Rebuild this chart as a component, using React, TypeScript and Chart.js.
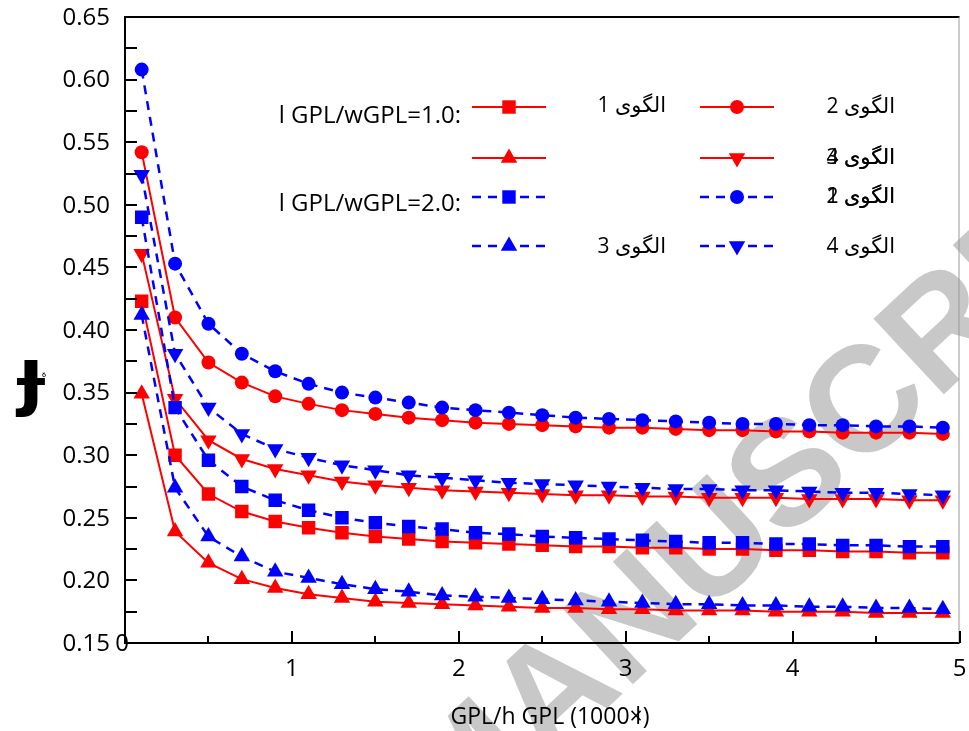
import React, { useEffect, useRef } from 'react';
import { Chart, registerables } from 'chart.js';

Chart.register(...registerables);

// ---------- DATA ----------
const xValues = [0.1, 0.3, 0.5, 0.7, 0.9, 1.1, 1.3, 1.5, 1.7, 1.9, 2.1, 2.3, 2.5, 2.7, 2.9, 3.1, 3.3, 3.5, 3.7, 3.9, 4.1, 4.3, 4.5, 4.7, 4.9];

// ratio 1.0 (red, solid)
const r1Pattern1 = [0.423, 0.300, 0.269, 0.255, 0.247, 0.242, 0.238, 0.235, 0.233, 0.231, 0.230, 0.229, 0.228, 0.227, 0.227, 0.226, 0.226, 0.225, 0.225, 0.224, 0.224, 0.223, 0.223, 0.222, 0.222];
const r1Pattern2 = [0.542, 0.410, 0.374, 0.358, 0.347, 0.341, 0.336, 0.333, 0.330, 0.328, 0.326, 0.325, 0.324, 0.323, 0.322, 0.322, 0.321, 0.320, 0.320, 0.319, 0.319, 0.318, 0.318, 0.318, 0.317];
const r1Pattern3 = [0.349, 0.239, 0.214, 0.201, 0.194, 0.189, 0.186, 0.183, 0.182, 0.181, 0.180, 0.179, 0.178, 0.178, 0.177, 0.177, 0.176, 0.176, 0.176, 0.175, 0.175, 0.175, 0.174, 0.174, 0.174];
const r1Pattern4 = [0.461, 0.345, 0.312, 0.297, 0.289, 0.284, 0.279, 0.276, 0.274, 0.272, 0.271, 0.270, 0.269, 0.268, 0.268, 0.267, 0.267, 0.266, 0.266, 0.266, 0.265, 0.265, 0.265, 0.264, 0.264];

// ratio 2.0 (blue, dashed)
const r2Pattern1 = [0.490, 0.338, 0.296, 0.275, 0.264, 0.256, 0.250, 0.246, 0.243, 0.241, 0.238, 0.237, 0.235, 0.234, 0.233, 0.232, 0.231, 0.230, 0.230, 0.229, 0.229, 0.228, 0.228, 0.227, 0.227];
const r2Pattern2 = [0.608, 0.453, 0.405, 0.381, 0.367, 0.357, 0.350, 0.346, 0.342, 0.338, 0.336, 0.334, 0.332, 0.330, 0.329, 0.328, 0.327, 0.326, 0.325, 0.325, 0.324, 0.324, 0.323, 0.323, 0.322];
const r2Pattern3 = [0.412, 0.274, 0.235, 0.219, 0.207, 0.202, 0.197, 0.193, 0.191, 0.188, 0.187, 0.186, 0.185, 0.184, 0.183, 0.182, 0.181, 0.181, 0.180, 0.180, 0.179, 0.179, 0.178, 0.178, 0.177];
const r2Pattern4 = [0.524, 0.381, 0.338, 0.317, 0.305, 0.298, 0.292, 0.288, 0.284, 0.282, 0.280, 0.278, 0.277, 0.276, 0.275, 0.274, 0.273, 0.273, 0.272, 0.272, 0.271, 0.270, 0.270, 0.269, 0.268];

// ticks and labels
const yMajorTicks = [0.15, 0.2, 0.25, 0.3, 0.35, 0.4, 0.45, 0.5, 0.55, 0.6, 0.65];
const yMinorTicks = [0.175, 0.225, 0.275, 0.325, 0.375, 0.425, 0.475, 0.525, 0.575, 0.625];
const xMajorTicks = [0, 1, 2, 3, 4, 5];
const xMinorTicks = [0.5, 1.5, 2.5, 3.5, 4.5];
const groupLabels = ['l GPL/wGPL=1.0:', 'l GPL/wGPL=2.0:'];
const patternLabels = ['الگوی 1', 'الگوی 2', 'الگوی 3', 'الگوی 4'];
const xTitleParts = ['GPL/h GPL (1000', '×', 'l', ')'];
const yTitleMain = 'ɟ';
const yTitleSup = 'ة';
const watermarkWords = ['ACCEPTED', 'MANUSCRIPT'];

const RED = '#ff0000';
const BLUE = '#0000ff';
const FONT = '"Open Sans", "Noto Sans", "DejaVu Sans", sans-serif';

type Def = { label: string; data: number[]; color: string; style: string; rot: number; dashed: boolean; radius: number };

const defs: Def[] = [
  { label: 'r1p1', data: r1Pattern1, color: RED, style: 'rect', rot: 0, dashed: false, radius: 9.5 },
  { label: 'r1p2', data: r1Pattern2, color: RED, style: 'circle', rot: 0, dashed: false, radius: 7 },
  { label: 'r1p3', data: r1Pattern3, color: RED, style: 'triangle', rot: 0, dashed: false, radius: 9.5 },
  { label: 'r1p4', data: r1Pattern4, color: RED, style: 'triangle', rot: 180, dashed: false, radius: 9.5 },
  { label: 'r2p1', data: r2Pattern1, color: BLUE, style: 'rect', rot: 0, dashed: true, radius: 9.5 },
  { label: 'r2p2', data: r2Pattern2, color: BLUE, style: 'circle', rot: 0, dashed: true, radius: 7 },
  { label: 'r2p3', data: r2Pattern3, color: BLUE, style: 'triangle', rot: 0, dashed: true, radius: 9.5 },
  { label: 'r2p4', data: r2Pattern4, color: BLUE, style: 'triangle', rot: 180, dashed: true, radius: 9.5 },
];

function drawMarker(ctx: CanvasRenderingContext2D, style: string, x: number, y: number, r: number, rotDeg: number, color: string) {
  ctx.save();
  ctx.fillStyle = color;
  ctx.setLineDash([]);
  ctx.beginPath();
  if (style === 'circle') {
    ctx.arc(x, y, r, 0, Math.PI * 2);
  } else if (style === 'rect') {
    const s = Math.SQRT1_2 * r;
    ctx.rect(x - s, y - s, 2 * s, 2 * s);
  } else {
    let rad = (rotDeg * Math.PI) / 180;
    ctx.moveTo(x + Math.sin(rad) * r, y - Math.cos(rad) * r);
    rad += (2 * Math.PI) / 3;
    ctx.lineTo(x + Math.sin(rad) * r, y - Math.cos(rad) * r);
    rad += (2 * Math.PI) / 3;
    ctx.lineTo(x + Math.sin(rad) * r, y - Math.cos(rad) * r);
    ctx.closePath();
  }
  ctx.fill();
  ctx.restore();
}

function line(ctx: CanvasRenderingContext2D, x1: number, y1: number, x2: number, y2: number) {
  ctx.beginPath();
  ctx.moveTo(x1, y1);
  ctx.lineTo(x2, y2);
  ctx.stroke();
}

const overlayPlugin = {
  id: 'overlay',
  beforeDraw(chart: any) {
    const ctx: CanvasRenderingContext2D = chart.ctx;
    ctx.save();
    ctx.fillStyle = '#ffffff';
    ctx.fillRect(0, 0, chart.width, chart.height);
    // watermark
    ctx.translate(455, 850);
    ctx.rotate((-43 * Math.PI) / 180);
    ctx.font = 'bold 150px "Liberation Sans", Arial, sans-serif';
    ctx.fillStyle = '#c8c8c8';
    ctx.textBaseline = 'alphabetic';
    ctx.textAlign = 'right';
    ctx.fillText(watermarkWords[0] + ' ', 0, 0);
    ctx.textAlign = 'left';
    ctx.fillText(watermarkWords[1], 0, 0);
    ctx.restore();
  },
  afterDraw(chart: any) {
    const ctx: CanvasRenderingContext2D = chart.ctx;
    const { left, right, top, bottom } = chart.chartArea;
    const xs = chart.scales.x;
    const ys = chart.scales.y;
    ctx.save();
    ctx.setLineDash([]);
    ctx.strokeStyle = '#000';
    ctx.lineWidth = 2;
    line(ctx, left, top - 1, left, bottom + 1);
    line(ctx, left - 1, bottom, right, bottom);
    line(ctx, left - 1, top, right, top);
    ctx.strokeStyle = '#999';
    ctx.lineWidth = 1;
    line(ctx, right - 0.5, top, right - 0.5, bottom);

    // y ticks
    ctx.strokeStyle = '#000';
    ctx.lineWidth = 2;
    [...yMajorTicks, ...yMinorTicks].forEach((v) => {
      const y = Math.round(ys.getPixelForValue(v));
      line(ctx, left, y, left + 12, y);
    });
    // x ticks
    xMajorTicks.forEach((v) => {
      const x = Math.round(xs.getPixelForValue(v));
      line(ctx, x, bottom, x, bottom - 12);
    });
    xMinorTicks.forEach((v) => {
      const x = Math.round(xs.getPixelForValue(v));
      line(ctx, x, bottom, x, bottom - 7);
    });

    // tick labels
    ctx.fillStyle = '#000';
    ctx.font = `24px ${FONT}`;
    ctx.textAlign = 'right';
    ctx.textBaseline = 'middle';
    yMajorTicks.forEach((v) => {
      ctx.fillText(v.toFixed(2), 110, ys.getPixelForValue(v) + 1);
    });
    ctx.textAlign = 'center';
    xMajorTicks.forEach((v) => {
      const x = xs.getPixelForValue(v);
      if (v === 0) ctx.fillText(String(v), x - 3, bottom + 1);
      else ctx.fillText(String(v), x, bottom + 26);
    });

    // x title
    ctx.font = `23px ${FONT}`;
    ctx.textAlign = 'left';
    const w0 = ctx.measureText(xTitleParts[0]).width;
    const w1 = ctx.measureText(xTitleParts[1]).width;
    const w3 = ctx.measureText(xTitleParts[3]).width;
    const sx = 550 - (w0 + w1 + w3) / 2;
    const ty = 717;
    ctx.fillText(xTitleParts[0], sx, ty);
    ctx.fillText(xTitleParts[1], sx + w0, ty);
    ctx.textAlign = 'center';
    ctx.fillText(xTitleParts[2], sx + w0 + w1 * 0.65, ty);
    ctx.textAlign = 'left';
    ctx.fillText(xTitleParts[3], sx + w0 + w1, ty);

    // y title
    ctx.font = `bold 74px "DejaVu Sans", sans-serif`;
    ctx.textAlign = 'center';
    ctx.textBaseline = 'alphabetic';
    ctx.fillText(yTitleMain, 31, 401);
    ctx.font = `9px "DejaVu Sans", sans-serif`;
    ctx.fillText(yTitleSup, 44, 377);

    // legend
    const cols = [
      { x1: 472, x2: 546 },
      { x1: 700, x2: 774 },
    ];
    const rows = [107, 158, 197, 246];
    defs.forEach((d, i) => {
      const group = i < 4 ? 0 : 1;
      const k = i % 4;
      const row = group * 2 + Math.floor(k / 2);
      const col = k % 2;
      const y = rows[row];
      const { x1, x2 } = cols[col];
      ctx.save();
      ctx.strokeStyle = d.color;
      ctx.lineWidth = d.dashed ? 2.5 : 2;
      ctx.setLineDash(d.dashed ? [9, 7] : []);
      line(ctx, x1, y, x2, y);
      ctx.restore();
      drawMarker(ctx, d.style, (x1 + x2) / 2, y, d.radius, d.rot, d.color);
    });

    ctx.fillStyle = '#000';
    ctx.font = `24px ${FONT}`;
    ctx.textAlign = 'right';
    ctx.textBaseline = 'middle';
    ctx.fillText(groupLabels[0], 461, 116);
    ctx.fillText(groupLabels[1], 461, 204);

    ctx.font = `21px ${FONT}`;
    ctx.direction = 'rtl';
    ctx.textAlign = 'right';
    const lbl = (t: string, x: number, y: number) => ctx.fillText(t, x, y);
    lbl(patternLabels[0], 666, 106);
    lbl(patternLabels[1], 895, 107);
    lbl(patternLabels[2], 895, 158);
    lbl(patternLabels[3], 895, 158);
    lbl(patternLabels[0], 895, 197);
    lbl(patternLabels[1], 895, 197);
    lbl(patternLabels[2], 666, 247);
    lbl(patternLabels[3], 895, 247);
    ctx.restore();
  },
};

export default function App() {
  const ref = useRef<HTMLCanvasElement | null>(null);
  useEffect(() => {
    if (!ref.current) return;
    const chart = new Chart(ref.current, {
      type: 'line',
      data: {
        datasets: defs.map((d) => ({
          label: d.label,
          data: xValues.map((x, i) => ({ x, y: d.data[i] })),
          borderColor: d.color,
          backgroundColor: d.color,
          borderWidth: d.dashed ? 2.5 : 2,
          borderDash: d.dashed ? [9, 7] : [],
          pointStyle: d.style,
          pointRotation: d.rot,
          pointRadius: d.radius,
          pointBorderWidth: 0,
          pointBackgroundColor: d.color,
          pointBorderColor: d.color,
          tension: 0,
          fill: false,
          order: d.dashed ? 0 : 1,
        })),
      },
      options: {
        responsive: false,
        animation: false,
        devicePixelRatio: 1,
        layout: { padding: { left: 125, right: 3, top: 17, bottom: 88 } },
        plugins: { legend: { display: false }, tooltip: { enabled: false }, title: { display: false } },
        scales: {
          x: { type: 'linear', min: 0, max: 5, display: false },
          y: { type: 'linear', min: 0.15, max: 0.65, display: false },
        },
      },
      plugins: [overlayPlugin],
    } as any);
    return () => chart.destroy();
  }, []);
  return (
    <div style={{ position: 'absolute', left: 0, top: 0, width: 969, height: 731, background: '#fff' }}>
      <canvas ref={ref} width={969} height={731} style={{ display: 'block' }} />
    </div>
  );
}
